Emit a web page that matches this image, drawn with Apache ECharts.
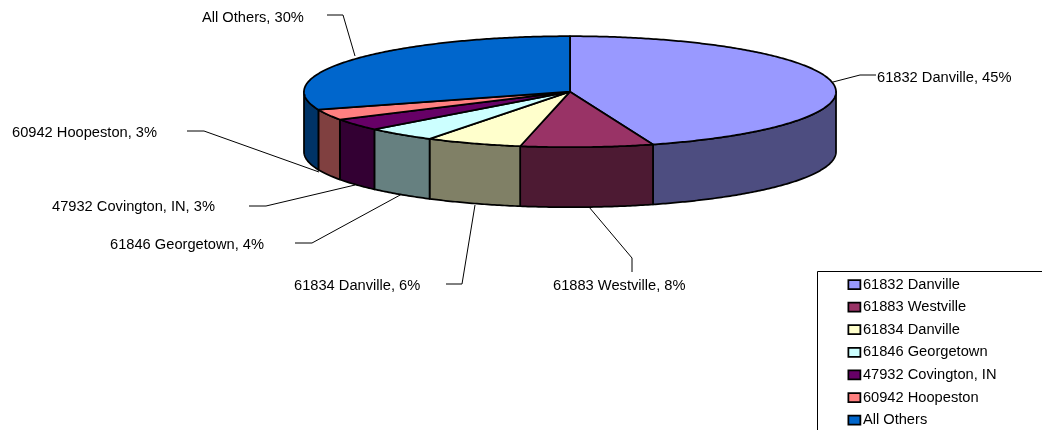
<!DOCTYPE html>
<html>
<head>
<meta charset="utf-8">
<style>html,body{margin:0;padding:0;background:#fff;overflow:hidden}#c{width:1042px;height:430px}</style>
<script src="https://cdn.jsdelivr.net/npm/echarts@6/dist/echarts.min.js"></script>
</head>
<body>
<div id="c"></div>
<script>
// Data
const categories = ['61832 Danville','61883 Westville','61834 Danville','61846 Georgetown','47932 Covington, IN','60942 Hoopeston','All Others'];
const shares = [44.95, 8.05, 5.85, 4.3, 3.49, 3.1, 30.26];

// Styles
const topColors = ['#9999FF','#993366','#FFFFCC','#CCFFFF','#660066','#FF8080','#0066CC'];
const wallColors = ['#4D4D80','#4D1A33','#808066','#668080','#330033','#804040','#003366'];

// Layout
const disc = {cx: 570, cy: 91.7, rx: 266, ry: 55.5, depth: 60};
const FONT = '14.67px "Liberation Sans", Arial, sans-serif';
const labelPos = [
  {x:877, y:78,  line:[[876,75],[860,75],[833,82]]},
  {x:553, y:286, line:[[632,272],[632,258],[589,207]]},
  {x:294, y:286, line:[[446,284],[462,284],[475,205]]},
  {x:110, y:245, line:[[295,243],[312,243],[402,194]]},
  {x:52,  y:207, line:[[249,206],[266,206],[355,185]]},
  {x:12,  y:133, line:[[187,131],[204,131],[319,172]]},
  {x:202, y:18,  line:[[327,15],[343,15],[355,56]]}
];

const total = shares.reduce((a, b) => a + b, 0);
const startFrac = shares.map((_, i) => shares.slice(0, i).reduce((a, b) => a + b, 0) / total);

function pt(t, dy) {
  return [disc.cx + disc.rx * Math.sin(t), disc.cy - disc.ry * Math.cos(t) + (dy || 0)];
}
function arc(a, b, dy) {
  const n = Math.max(2, Math.ceil(Math.abs(b - a) / 0.01));
  const out = [];
  for (let k = 0; k <= n; k++) out.push(pt(a + (b - a) * k / n, dy));
  return out;
}

function makeRender(i) {
  return function (params, api) {
    const a = startFrac[i] * 2 * Math.PI;
    const b = a + api.value(0) / total * 2 * Math.PI;
    const children = [];
    const lp = labelPos[i];
    children.push({type:'polyline', shape:{points:lp.line}, style:{stroke:'#000', lineWidth:1, fill:null}, z2:1});
    const fa = Math.max(a, Math.PI / 2), fb = Math.min(b, 1.5 * Math.PI);
    if (fb > fa) {
      const pts = arc(fa, fb, 0).concat(arc(fb, fa, disc.depth));
      children.push({type:'polygon', shape:{points:pts}, style:{fill:wallColors[i], stroke:'#000', lineWidth:1.75, lineJoin:'round'}, z2:2});
    }
    const topPts = [[disc.cx, disc.cy]].concat(arc(a, b, 0));
    children.push({type:'polygon', shape:{points:topPts}, style:{fill:topColors[i], stroke:'#000', lineWidth:1.75, lineJoin:'round'}, z2:3});
    children.push({type:'text', style:{x:lp.x, y:lp.y, text:categories[i] + ', ' + Math.round(api.value(0) / total * 100) + '%', font:FONT, fill:'#000', verticalAlign:'middle', align:'left'}, z2:4});
    return {type:'group', children};
  };
}

const series = categories.map((name, i) => ({
  type:'custom',
  name,
  coordinateSystem:'none',
  renderItem: makeRender(i),
  itemStyle:{color:topColors[i]},
  data:[[shares[i]]],
  silent:true,
  animation:false,
  clip:false
}));

const chart = echarts.init(document.getElementById('c'), null, {renderer:'canvas'});
chart.setOption({
  animation:false,
  backgroundColor:'#fff',
  graphic:[{type:'rect', shape:{x:817.5, y:271.5, width:300, height:240}, style:{fill:'#fff', stroke:'#000', lineWidth:1}, z:-1, silent:true}],
  legend:{
    orient:'vertical', left:847.5, top:277, padding:0,
    itemWidth:12, itemHeight:9, itemGap:7.6,
    icon:'rect', selectedMode:false,
    data:categories,
    itemStyle:{borderColor:'#000', borderWidth:1.75},
    textStyle:{fontFamily:'"Liberation Sans", Arial, sans-serif', fontSize:14.67, color:'#000', padding:[0,0,0,-2.5], lineHeight:15, height:15}
  },
  series
});
</script>
</body>
</html>
